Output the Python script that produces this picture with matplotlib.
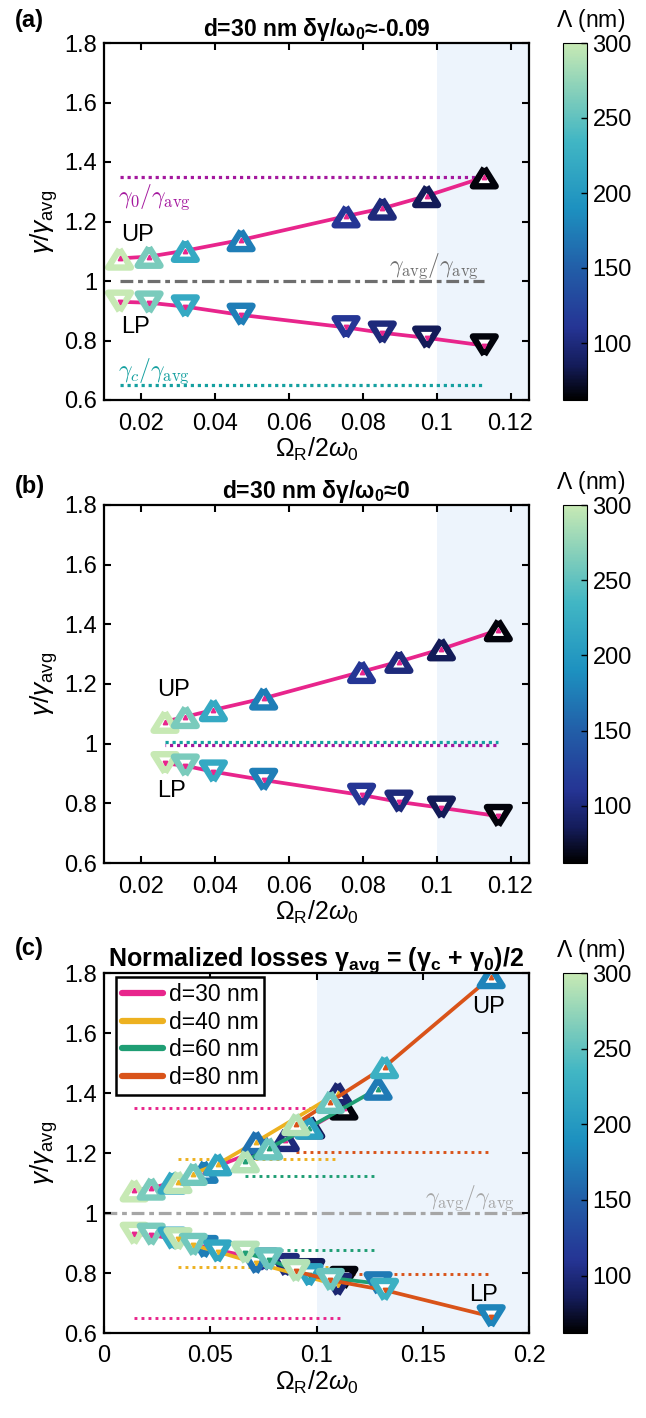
import numpy as np
import matplotlib
matplotlib.use('Agg')
import matplotlib.pyplot as plt
from matplotlib.colors import LinearSegmentedColormap, Normalize
from matplotlib.cm import ScalarMappable

plt.rcParams['font.family'] = ['Liberation Sans', 'DejaVu Sans']
plt.rcParams['mathtext.fontset'] = 'custom'
plt.rcParams['mathtext.rm'] = 'Liberation Sans'
plt.rcParams['mathtext.it'] = 'Liberation Sans:italic'
plt.rcParams['mathtext.bf'] = 'Liberation Sans:bold'

# ---- data ----
# (a) d=30 nm, dgamma/w0 ~ -0.09
omega_a = [0.0142, 0.0222, 0.0320, 0.0471, 0.0755, 0.0853, 0.0973, 0.1129]
up_a = [1.076, 1.082, 1.102, 1.138, 1.218, 1.244, 1.286, 1.349]
lp_a = [0.930, 0.927, 0.914, 0.886, 0.844, 0.826, 0.809, 0.783]
period_a = [300, 262, 220, 175, 112, 100, 85, 65]
g0_a = 1.35
gc_a = 0.65

# (b) d=30 nm, dgamma/w0 ~ 0
omega_b = [0.0265, 0.0320, 0.0396, 0.0532, 0.0797, 0.0898, 0.1013, 0.1167]
up_b = [1.074, 1.090, 1.113, 1.152, 1.241, 1.275, 1.317, 1.381]
lp_b = [0.934, 0.926, 0.906, 0.878, 0.828, 0.805, 0.785, 0.757]
period_b = [300, 262, 220, 175, 112, 100, 85, 65]
g0_b = 0.996
gc_b = 1.004

# (c) all thicknesses
thick = ['d=30 nm', 'd=40 nm', 'd=60 nm', 'd=80 nm']
thick_colors = ['#e8258c', '#edb120', '#1f9e74', '#d95319']
omega_c = [omega_a,
           [0.0348, 0.0420, 0.0535, 0.0715, 0.1100],
           [0.0665, 0.0775, 0.0965, 0.1290],
           [0.0903, 0.1065, 0.1320, 0.1822]]
up_c = [up_a,
        [1.104, 1.131, 1.163, 1.237, 1.400],
        [1.173, 1.216, 1.285, 1.415],
        [1.297, 1.371, 1.487, 1.787]]
lp_c = [lp_a,
        [0.912, 0.893, 0.871, 0.833, 0.760],
        [0.867, 0.845, 0.792, 0.765],
        [0.806, 0.776, 0.743, 0.655]]
period_c = [period_a,
            [295, 258, 215, 165, 95],
            [290, 255, 210, 172],
            [290, 255, 228, 180]]
g0_c = [1.349, 1.179, 1.124, 1.204]
gc_c = [0.650, 0.821, 0.877, 0.796]

# ---- colormap for the grating period ----
lam_min, lam_max = 62, 300
stops = [(62, '#000000'), (85, '#141c5a'), (110, '#253494'), (150, '#225ea8'),
         (190, '#1d91c0'), (235, '#41b6c4'), (265, '#7fcdbb'), (300, '#c7e9b4')]
cmap = LinearSegmentedColormap.from_list(
    'period', [((v - lam_min) / (lam_max - lam_min), c) for v, c in stops])
norm = Normalize(lam_min, lam_max)

pink = '#e8258c'
shade = '#edf4fc'
tri_up = [(0, 0.8), (-1, -0.8), (1, -0.8), (0, 0.8)]
tri_dn = [(0, -0.8), (-1, 0.8), (1, 0.8), (0, -0.8)]

W, H = 646, 1418
fig = plt.figure(figsize=(W / 100, H / 100), dpi=100)


def rect(x0, y0, x1, y1):
    return [x0 / W, 1 - y1 / H, (x1 - x0) / W, (y1 - y0) / H]


def branch(ax, x, y, lam, col, up, z):
    ax.plot(x, y, '-', color=col, lw=2.7, zorder=z, solid_capstyle='round')
    ax.scatter(x, y, s=270, marker=tri_up if up else tri_dn, facecolors='white',
               edgecolors=cmap(norm(np.array(lam))), linewidths=4.6, zorder=z + 0.1)
    ax.plot(x, y, ls='none', marker='^' if up else 'v', ms=3.2, color=col,
            mec=col, zorder=z + 0.2)
    return ax.lines[-2]


def style(ax, xlim, xticks, xlabels):
    ax.set_xlim(xlim)
    ax.set_ylim(0.6, 1.8)
    ax.set_xticks(xticks)
    ax.set_xticklabels(xlabels)
    ax.set_yticks([0.6, 0.8, 1, 1.2, 1.4, 1.6, 1.8])
    ax.set_yticklabels(['0.6', '0.8', '1', '1.2', '1.4', '1.6', '1.8'])
    ax.tick_params(direction='in', top=True, right=True, length=5, width=1.5,
                   labelsize=17)
    ax.tick_params(axis='x', pad=9)
    ax.tick_params(axis='y', pad=5)
    for s in ax.spines.values():
        s.set_linewidth(1.6)
        s.set_zorder(20)
    ax.axvspan(0.1, xlim[1], color=shade, lw=0, zorder=0)
    ax.set_xlabel(r'$\Omega_{\mathrm{R}}/2\omega_{\mathrm{0}}$', fontsize=18, labelpad=1)
    ax.set_ylabel(r'$\gamma/\gamma_{\mathrm{avg}}$', fontsize=19, labelpad=3)


def colorbar(y0, y1):
    cax = fig.add_axes(rect(563, y0, 587, y1))
    cb = fig.colorbar(ScalarMappable(norm=norm, cmap=cmap), cax=cax)
    cb.set_ticks([100, 150, 200, 250, 300])
    cax.tick_params(direction='in', length=4, width=1, labelsize=17, pad=4)
    cb.outline.set_linewidth(0.8)
    fig.text(591 / W, 1 - (y0 - 22) / H, r'$\Lambda$ (nm)', fontsize=16.5,
             ha='center', va='center')


xt_ab = [0.02, 0.04, 0.06, 0.08, 0.1, 0.12]
xl_ab = ['0.02', '0.04', '0.06', '0.08', '0.1', '0.12']

# ---- (a) ----
ax = fig.add_axes(rect(104, 43, 529, 400))
style(ax, (0.01, 0.125), xt_ab, xl_ab)
ax.plot([omega_a[0], omega_a[-1]], [g0_a, g0_a], color='#a4189e', lw=2.3,
        ls=(0, (1, 1.2)), zorder=1)
ax.plot([omega_a[0], omega_a[-1]], [gc_a, gc_a], color='#15a0a0', lw=2.3,
        ls=(0, (1, 1.2)), zorder=1)
ax.plot([omega_a[0], omega_a[-1]], [1, 1], color='#6e6e6e', lw=2.3,
        dashes=(4, 1.5, 1.5, 1.5), zorder=1)
branch(ax, omega_a, up_a, period_a, pink, True, 2)
branch(ax, omega_a, lp_a, period_a, pink, False, 2)
ax.text(0.0137, 1.28, r'$\gamma_0/\gamma_{\rm avg}$', color='#a4189e', fontsize=17,
        math_fontfamily='cm', va='center')
ax.text(0.0137, 0.695, r'$\gamma_c/\gamma_{\rm avg}$', color='#15a0a0', fontsize=17,
        math_fontfamily='cm', va='center')
ax.text(0.0870, 1.048, r'$\gamma_{\rm avg}/\gamma_{\rm avg}$', color='#6e6e6e',
        fontsize=17, math_fontfamily='cm', va='center')
ax.text(0.0145, 1.155, 'UP', fontsize=17, va='center')
ax.text(0.0145, 0.845, 'LP', fontsize=17, va='center')
ax.set_title(r'd=30 nm δγ/ω$_{\mathbf{0}}$≈-0.09', fontsize=16.5, fontweight='bold', pad=5)
colorbar(43, 400)
fig.text(15 / W, 1 - 20 / H, '(a)', fontsize=17, fontweight='bold', va='center')

# ---- (b) ----
ax = fig.add_axes(rect(104, 505, 529, 863))
style(ax, (0.01, 0.125), xt_ab, xl_ab)
ax.plot([omega_b[0], omega_b[-1]], [gc_b, gc_b], color='#15a0a0', lw=2.3,
        ls=(0, (1, 1.2)), zorder=1)
ax.plot([omega_b[0], omega_b[-1]], [g0_b, g0_b], color='#a4189e', lw=2.3,
        ls=(0.8, (1, 1.2)), zorder=1)
branch(ax, omega_b, up_b, period_b, pink, True, 2)
branch(ax, omega_b, lp_b, period_b, pink, False, 2)
ax.text(0.0245, 1.18, 'UP', fontsize=17, va='center')
ax.text(0.0245, 0.84, 'LP', fontsize=17, va='center')
ax.set_title(r'd=30 nm δγ/ω$_{\mathbf{0}}$≈0', fontsize=16.5, fontweight='bold', pad=5)
colorbar(505, 863)
fig.text(15 / W, 1 - 487 / H, '(b)', fontsize=17, fontweight='bold', va='center')

# ---- (c) ----
ax = fig.add_axes(rect(104, 973, 529, 1333))
style(ax, (0, 0.2), [0, 0.05, 0.1, 0.15, 0.2], ['0', '0.05', '0.1', '0.15', '0.2'])
ax.plot([0, 0.2], [1, 1], color='#a6a6a6', lw=2.3, dashes=(4, 1.5, 1.5, 1.5), zorder=1)
ax.text(0.151, 1.049, r'$\gamma_{\rm avg}/\gamma_{\rm avg}$', color='#a6a6a6',
        fontsize=17, math_fontfamily='cm', va='center')
handles = []
for k in range(4):
    x = omega_c[k]
    col = thick_colors[k]
    ax.plot([x[0], x[-1]], [g0_c[k], g0_c[k]], color=col, lw=2.1, ls=(0, (1, 1.4)), zorder=1)
    ax.plot([x[0], x[-1]], [gc_c[k], gc_c[k]], color=col, lw=2.1, ls=(0, (1, 1.4)), zorder=1)
for k in range(4):
    col = thick_colors[k]
    h = branch(ax, omega_c[k], up_c[k], period_c[k], col, True, 2 + k)
    branch(ax, omega_c[k], lp_c[k], period_c[k], col, False, 2 + k)
    h.set_label(thick[k])
    handles.append(h)
leg = ax.legend(handles=handles, loc='upper left', bbox_to_anchor=(0.028, 0.988),
                borderaxespad=0, fontsize=16.5, handlelength=1.8, handletextpad=0.25,
                labelspacing=0.2, borderpad=0.25, fancybox=False, framealpha=1)
leg.get_frame().set_edgecolor('black')
leg.get_frame().set_linewidth(1.8)
for ln in leg.get_lines():
    ln.set_linewidth(4.5)
leg.set_zorder(30)
ax.text(0.173, 1.687, 'UP', fontsize=17, va='center')
ax.text(0.172, 0.727, 'LP', fontsize=17, va='center')
ax.set_title('Normalized losses γ$_{\\mathbf{avg}}$ = (γ$_{\\mathbf{c}}$ + γ$_{\\mathbf{0}}$)/2',
             fontsize=18, fontweight='bold', pad=5)
colorbar(973, 1333)
fig.text(15 / W, 1 - 948 / H, '(c)', fontsize=17, fontweight='bold', va='center')

fig.savefig('out.png', dpi=100)
